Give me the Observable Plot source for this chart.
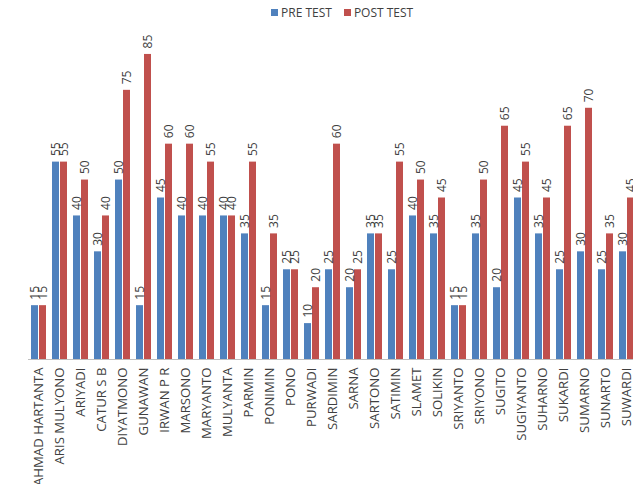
<!DOCTYPE html>
<html><head><meta charset="utf-8">
<script src="https://cdn.jsdelivr.net/npm/d3@7"></script>
<script src="https://cdn.jsdelivr.net/npm/@observablehq/plot@0.6"></script>
<style>
html,body{margin:0;padding:0;overflow:hidden;background:#fff;width:633px;height:484px;position:relative;}
#legend{position:absolute;top:4px;left:271px;font:12px "Open Sans",sans-serif;color:#404040;display:flex;align-items:center;z-index:2;}
#legend .item{display:flex;align-items:center;margin-right:12px;}
#legend .sw{width:7px;height:7px;margin-right:3px;}
#chart{position:absolute;top:0;left:0;width:645px;}
#chart svg{max-width:none !important;}
</style></head><body>
<div id="legend"></div><div id="chart"></div>
<script>
const names = ["AHMAD HARTANTA","ARIS MULYONO","ARIYADI","CATUR S B","DIYATMONO","GUNAWAN","IRWAN P R","MARSONO","MARYANTO","MULYANTA","PARMIN","PONIMIN","PONO","PURWADI","SARDIMIN","SARNA","SARTONO","SATIMIN","SLAMET","SOLIKIN","SRIYANTO","SRIYONO","SUGITO","SUGIYANTO","SUHARNO","SUKARDI","SUMARNO","SUNARTO","SUWARDI"];
const preTest  = [15,55,40,30,50,15,45,40,40,40,35,15,25,10,25,20,35,25,40,35,15,35,20,45,35,25,30,25,30];
const postTest = [15,55,50,40,75,85,60,60,55,40,55,35,25,20,60,25,35,55,50,45,15,50,65,55,45,65,70,35,45];
const seriesNames = ["PRE TEST","POST TEST"];
const seriesColors = ["#4F81BD","#C0504D"];

const data = names.flatMap((n, i) => [
  {name: n, series: seriesNames[0], value: preTest[i]},
  {name: n, series: seriesNames[1], value: postTest[i]}
]);

const legend = document.getElementById("legend");
seriesNames.forEach((s, i) => {
  const it = document.createElement("div"); it.className = "item";
  const sw = document.createElement("div"); sw.className = "sw"; sw.style.background = seriesColors[i];
  const tx = document.createElement("span"); tx.textContent = s;
  it.appendChild(sw); it.appendChild(tx); legend.appendChild(it);
});

const chart = Plot.plot({
  width: 645, height: 484,
  marginLeft: 21, marginRight: 2, marginTop: 36, marginBottom: 125,
  style: {fontFamily: "'Open Sans', sans-serif", fontSize: "12px", color: "#404040", background: "transparent", maxWidth: "none"},
  fx: {domain: names, padding: 0, label: null, axis: null},
  x: {domain: seriesNames, axis: null, paddingInner: 0.11, paddingOuter: 0.25},
  y: {domain: [0, 90], axis: null},
  color: {domain: seriesNames, range: seriesColors},
  marks: [
    Plot.axisFx({anchor: "bottom", label: null, tickSize: 0, tickPadding: 8, tickRotate: -90, fontSize: 13.2, fill: "#404040"}),
    Plot.barY(data, {fx: "name", x: "series", y: "value", fill: "series"}),
    Plot.text(data, {fx: "name", x: "series", y: "value", text: d => String(d.value), rotate: -90, textAnchor: "start", dy: -6, fill: "#404040", fontSize: 12}),
    Plot.ruleY([0], {stroke: "#BFBFBF"})
  ]
});
chart.style.maxWidth = "none";
document.getElementById("chart").appendChild(chart);
</script>
</body></html>
